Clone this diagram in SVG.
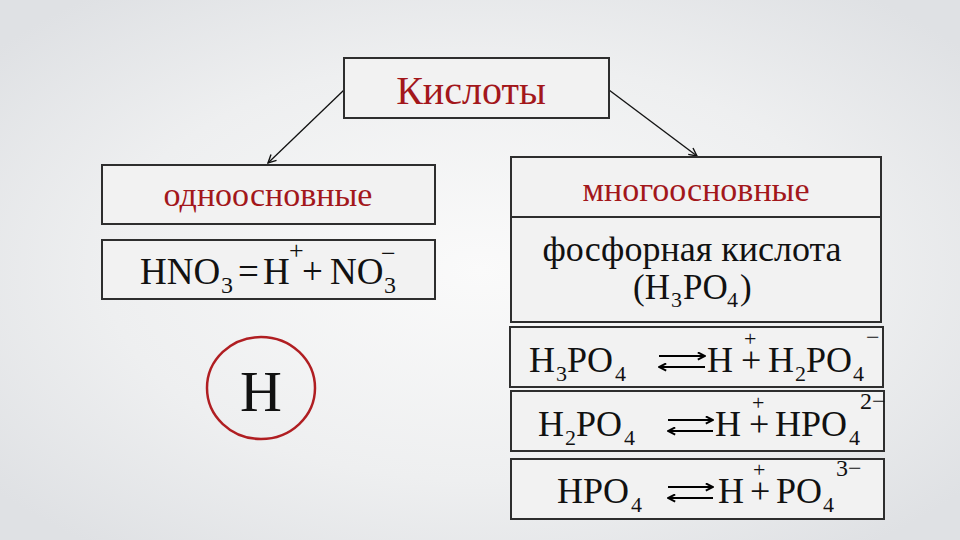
<svg xmlns="http://www.w3.org/2000/svg" width="960" height="540" viewBox="0 0 960 540">
<defs>
<radialGradient id="bg" cx="50%" cy="50%" r="65%">
<stop offset="0" stop-color="#fafafa"/>
<stop offset="0.6" stop-color="#eeeff0"/>
<stop offset="1" stop-color="#dfe1e4"/>
</radialGradient>
<marker id="ah" viewBox="0 0 10 10" refX="9" refY="5" markerWidth="10" markerHeight="10" markerUnits="userSpaceOnUse" orient="auto">
<path d="M1,1 L9,5 L1,9" fill="none" stroke="#111" stroke-width="1.4"/>
</marker>
<marker id="eq" viewBox="0 0 10 10" refX="9" refY="5" markerWidth="9" markerHeight="9" markerUnits="userSpaceOnUse" orient="auto">
<path d="M1,1 L9,5 L1,9" fill="none" stroke="#000" stroke-width="2.2"/>
</marker>
</defs>
<style>
.box{fill:#f2f2f2;stroke:#2e2e2e;stroke-width:2}
text{font-family:'Liberation Serif','DejaVu Serif','Noto Serif',serif}
.t{fill:#111}
.r{fill:#a3171b}
.eqa{stroke:#000;stroke-width:2;fill:none}
.con{stroke:#111;stroke-width:1.3;fill:none}
</style>
<rect width="960" height="540" fill="url(#bg)"/>

<g id="connectors">
<path class="con" d="M344,90 L268,163" marker-end="url(#ah)"/>
<path class="con" d="M609,90 L697,156" marker-end="url(#ah)"/>
</g>

<g id="acids">
<rect class="box" x="344" y="58" width="265" height="60"/>
<text class="r" x="471" y="104" font-size="40" text-anchor="middle">Кислоты</text>
</g>

<g id="monobasic">
<rect class="box" x="102" y="165" width="333" height="59"/>
<text class="r" x="268" y="206" font-size="34" text-anchor="middle">одноосновные</text>
</g>

<g id="hno3">
<rect class="box" x="102" y="240" width="333" height="59"/>
<text class="t" font-size="37"><tspan x="140" y="284">HNO</tspan><tspan x="221" y="293" font-size="24">3</tspan><tspan x="238" y="284">=</tspan><tspan x="263" y="284">H</tspan><tspan x="289" y="259" font-size="26">+</tspan><tspan x="302" y="284">+</tspan><tspan x="330" y="284">NO</tspan><tspan x="384" y="293" font-size="24">3</tspan><tspan x="381" y="262" font-size="26">−</tspan></text>
</g>

<g id="h-circle">
<ellipse cx="261" cy="388" rx="54" ry="51" fill="none" stroke="#b01e22" stroke-width="2.5"/>
<text class="t" x="261" y="411" font-size="58" text-anchor="middle">H</text>
</g>

<g id="polybasic">
<rect class="box" x="511" y="157" width="370" height="165"/>
<line x1="511" y1="217" x2="881" y2="217" stroke="#2e2e2e" stroke-width="2"/>
<text class="r" x="696" y="201" font-size="34" text-anchor="middle">многоосновные</text>
<text class="t" x="692" y="261" font-size="36" text-anchor="middle">фосфорная кислота</text>
<text class="t" font-size="35"><tspan x="633" y="299">(H</tspan><tspan x="671" y="307" font-size="22">3</tspan><tspan x="683" y="299">PO</tspan><tspan x="727" y="307" font-size="22">4</tspan><tspan x="740" y="299">)</tspan></text>
</g>

<g id="step1">
<rect class="box" x="510" y="327" width="373" height="60"/>
<text class="t" font-size="36"><tspan x="529" y="372">H</tspan><tspan x="556" y="381" font-size="22">3</tspan><tspan x="567" y="372">PO</tspan><tspan x="615" y="381" font-size="22">4</tspan><tspan x="707" y="372">H</tspan><tspan x="744" y="346" font-size="22">+</tspan><tspan x="741" y="372">+</tspan><tspan x="768" y="372">H</tspan><tspan x="795" y="381" font-size="22">2</tspan><tspan x="806" y="372">PO</tspan><tspan x="853" y="381" font-size="22">4</tspan><tspan x="866" y="345" font-size="24">−</tspan></text>
<path class="eqa" d="M659,356 L705,356" marker-end="url(#eq)"/>
<path class="eqa" d="M705,367 L659,367" marker-end="url(#eq)"/>
</g>

<g id="step2">
<rect class="box" x="511" y="391" width="373" height="60"/>
<text class="t" font-size="36"><tspan x="538" y="436">H</tspan><tspan x="565" y="445" font-size="22">2</tspan><tspan x="576" y="436">PO</tspan><tspan x="624" y="445" font-size="22">4</tspan><tspan x="715" y="436">H</tspan><tspan x="752" y="410" font-size="22">+</tspan><tspan x="749" y="436">+</tspan><tspan x="775" y="436">HPO</tspan><tspan x="849" y="445" font-size="22">4</tspan><tspan x="860" y="409" font-size="24">2−</tspan></text>
<path class="eqa" d="M668,420 L713,420" marker-end="url(#eq)"/>
<path class="eqa" d="M713,431 L668,431" marker-end="url(#eq)"/>
</g>

<g id="step3">
<rect class="box" x="511" y="459" width="373" height="60"/>
<text class="t" font-size="36"><tspan x="557" y="503">HPO</tspan><tspan x="631" y="512" font-size="22">4</tspan><tspan x="718" y="503">H</tspan><tspan x="753" y="477" font-size="22">+</tspan><tspan x="750" y="503">+</tspan><tspan x="776" y="503">PO</tspan><tspan x="823" y="512" font-size="22">4</tspan><tspan x="836" y="476" font-size="24">3−</tspan></text>
<path class="eqa" d="M668,487 L713,487" marker-end="url(#eq)"/>
<path class="eqa" d="M713,498 L668,498" marker-end="url(#eq)"/>
</g>
</svg>
